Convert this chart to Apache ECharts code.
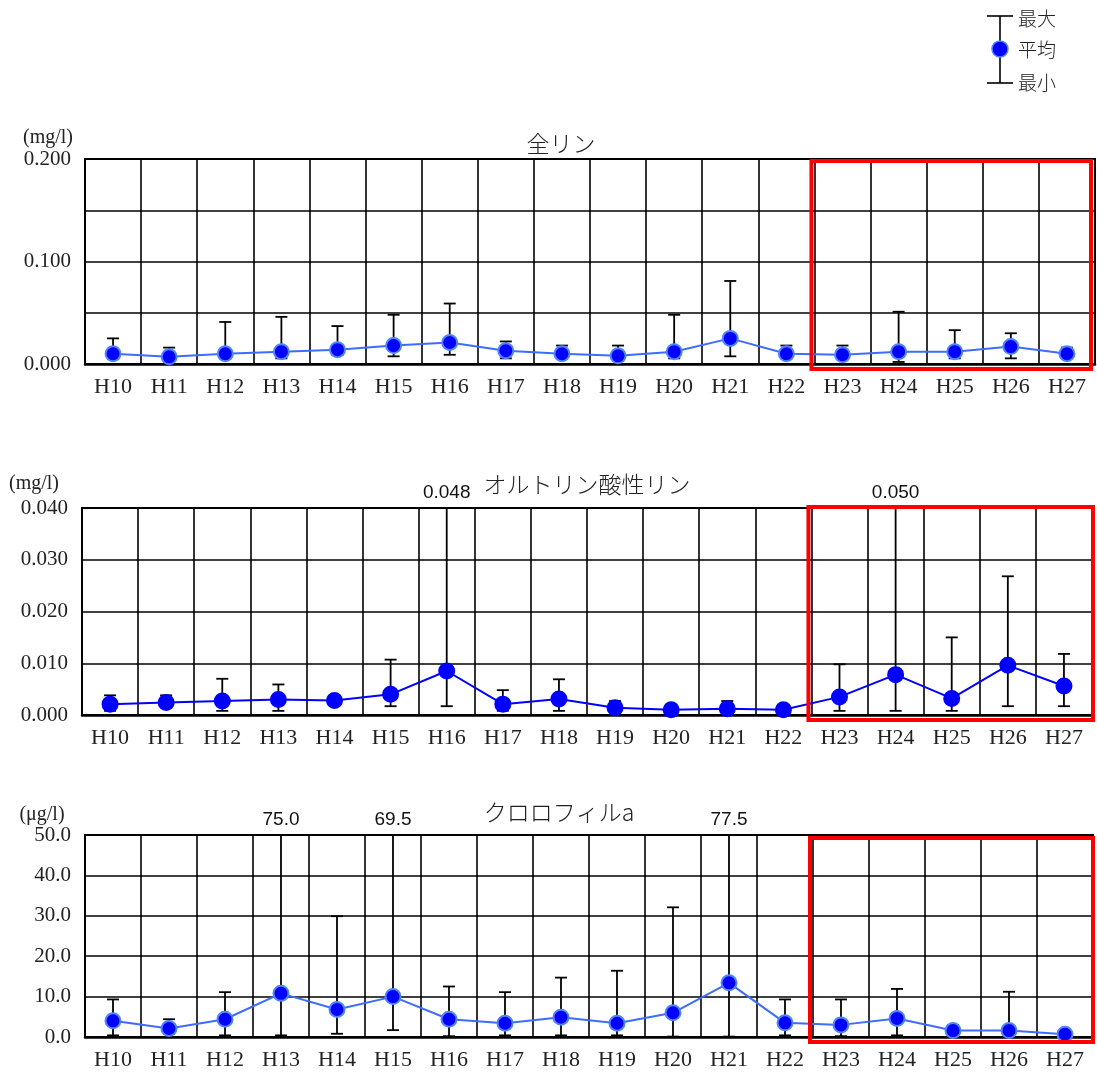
<!DOCTYPE html>
<html>
<head>
<meta charset="utf-8">
<script src="https://cdn.jsdelivr.net/npm/echarts@6/dist/echarts.min.js"></script>
<style>
html, body { margin: 0; padding: 0; background: #fff; }
#main { width: 1097px; height: 1076px; }
</style>
</head>
<body>
<div id="main"></div>
<script>
// 年度
const years = ['H10','H11','H12','H13','H14','H15','H16','H17','H18','H19','H20','H21','H22','H23','H24','H25','H26','H27'];

// 全リン (mg/l)
const tpMean = [0.010,0.007,0.010,0.012,0.014,0.018,0.021,0.013,0.010,0.008,0.012,0.025,0.010,0.009,0.012,0.012,0.017,0.010];
const tpMax  = [0.025,0.016,0.041,0.046,0.037,0.048,0.059,0.022,0.018,0.018,0.048,0.081,0.018,0.018,0.051,0.033,0.030,0.016];
const tpMin  = [0.005,0.004,0.0055,0.0055,0.009,0.0075,0.009,0.0055,0.007,0.007,0.0055,0.0075,0.008,0.007,0.002,0.0055,0.0055,0.008];

// オルトリン酸性リン (mg/l)
const opMean = [0.0021,0.0024,0.0027,0.0030,0.0028,0.0040,0.0085,0.0021,0.0031,0.0014,0.0010,0.0012,0.0010,0.0035,0.0078,0.0032,0.0096,0.0056];
const opMax  = [0.0038,0.0038,0.0070,0.0059,0.0032,0.0107,0.048,0.0048,0.0069,0.0027,0.0012,0.0027,0.0012,0.0098,0.050,0.0150,0.0268,0.0118];
const opMin  = [0.0008,0.0015,0.0008,0.0008,0.0022,0.0017,0.0017,0.0008,0.0008,0.0008,0.0008,0.0008,0.0008,0.0008,0.0008,0.0008,0.0017,0.0017];

// クロロフィルa (μg/l)
const chlMean = [4.0,2.1,4.4,10.8,6.8,10.0,4.4,3.4,4.9,3.4,6.0,13.4,3.5,3.0,4.6,1.6,1.6,0.7];
const chlMax  = [9.3,4.4,11.1,75.0,29.9,69.5,12.5,11.1,14.7,16.4,32.1,77.5,9.3,9.3,11.9,3.0,11.2,1.0];
const chlMin  = [0.4,0.8,0.4,0.4,0.8,1.7,0.2,0.4,0.4,0.4,0.1,0.1,0.4,0.2,0.4,0.3,0.2,0.3];

// y軸目盛
const tpTicks  = { min: 0, max: 0.2,  interval: 0.05, digits: 3, every: 2 };
const opTicks  = { min: 0, max: 0.04, interval: 0.01, digits: 3, every: 1 };
const chlTicks = { min: 0, max: 50,   interval: 10,   digits: 1, every: 1 };

const SERIF = '"Liberation Serif", "DejaVu Serif", serif';
const JP = '"Noto Sans CJK JP", sans-serif';
const SANS = '"Liberation Sans", Arial, sans-serif';

const panels = [
  { title: '全リン', unit: '(mg/l)', mean: tpMean, max: tpMax, min: tpMin, ticks: tpTicks,
    grid: { left: 85, top: 159, width: 1010, height: 205 },
    titlePos: { x: 561, y: 143 }, unitPos: { x: 48, y: 138 },
    lineColor: '#3d6cff', dotBorder: '#4f86ff', box: [-3, 2, -4, 5] },
  { title: 'オルトリン酸性リン', unit: '(mg/l)', mean: opMean, max: opMax, min: opMin, ticks: opTicks,
    grid: { left: 82, top: 508, width: 1010, height: 207 },
    titlePos: { x: 587, y: 484 }, unitPos: { x: 34, y: 484 },
    lineColor: '#0000ff', dotBorder: '#0000ff', box: [-3, -1, 1, 5] },
  { title: 'クロロフィルa', unit: '(μg/l)', mean: chlMean, max: chlMax, min: chlMin, ticks: chlTicks,
    grid: { left: 85, top: 835, width: 1008, height: 202 },
    titlePos: { x: 559, y: 812 }, unitPos: { x: 42, y: 815 },
    lineColor: '#3d6cff', dotBorder: '#4f86ff', box: [-3, 3, 0, 5] }
];

// 最大・最小のひげ（上限を超える値は上端で切り、数値を表示）
function errorBar(digits) {
  return function (params, api) {
    const x = api.value(0);
    const lo = api.coord([x, api.value(1)]);
    const hi = api.coord([x, api.value(2)]);
    const cs = params.coordSys;
    const clipped = hi[1] < cs.y;
    const top = clipped ? cs.y : hi[1];
    const half = 6;
    const st = { stroke: '#000', lineWidth: 1.8 };
    const children = [
      { type: 'line', shape: { x1: lo[0], y1: lo[1], x2: lo[0], y2: top }, style: st },
      { type: 'line', shape: { x1: lo[0] - half, y1: lo[1], x2: lo[0] + half, y2: lo[1] }, style: st }
    ];
    if (!clipped) {
      children.push({ type: 'line', shape: { x1: hi[0] - half, y1: hi[1], x2: hi[0] + half, y2: hi[1] }, style: st });
    } else {
      children.push({
        type: 'text', x: lo[0], y: cs.y - 15,
        style: { text: api.value(2).toFixed(digits), fill: '#111', font: 'normal 19px ' + SANS,
                 align: 'center', verticalAlign: 'middle' }
      });
    }
    return { type: 'group', children: children };
  };
}

const option = {
  animation: false,
  backgroundColor: '#fff',
  grid: [], xAxis: [], yAxis: [], series: []
};

// 見出し・単位
const labels = [];

panels.forEach((p, i) => {
  labels.push({
    type: 'text', x: p.titlePos.x, y: p.titlePos.y,
    style: { text: p.title, font: '300 23px ' + JP, fill: '#222', align: 'center', verticalAlign: 'middle' }
  });
  labels.push({
    type: 'text', x: p.unitPos.x, y: p.unitPos.y,
    style: { text: p.unit, font: 'normal 20px ' + SERIF, fill: '#222', align: 'center', verticalAlign: 'middle' }
  });
  option.grid.push(Object.assign({ show: true, borderColor: '#000', borderWidth: 2, backgroundColor: '#fff' }, p.grid));
  option.xAxis.push({
    type: 'category', gridIndex: i, data: years, boundaryGap: true,
    axisLine: { lineStyle: { color: '#000', width: 2.5 } },
    axisTick: { show: false },
    axisLabel: { color: '#222', fontFamily: SERIF, fontSize: 22, margin: 12 },
    splitLine: { show: true, lineStyle: { color: '#000', width: 1.6 } }
  });
  const t = p.ticks;
  option.yAxis.push({
    type: 'value', gridIndex: i, min: t.min, max: t.max, interval: t.interval,
    axisLine: { show: true, lineStyle: { color: '#000', width: 2 } },
    axisTick: { show: false },
    axisLabel: {
      color: '#222', fontFamily: SERIF, fontSize: 21, margin: 14,
      formatter: v => (Math.round(v / t.interval) % t.every === 0 ? v.toFixed(t.digits) : '')
    },
    splitLine: { show: true, lineStyle: { color: '#000', width: 1.6 } }
  });
  option.series.push({
    type: 'custom', xAxisIndex: i, yAxisIndex: i, z: 2, clip: false,
    renderItem: errorBar(t.digits),
    encode: { x: 0, y: [1, 2] },
    data: years.map((_, k) => [k, p.min[k], p.max[k]])
  });
  option.series.push({
    type: 'line', xAxisIndex: i, yAxisIndex: i, z: 3, data: p.mean,
    symbol: 'circle', symbolSize: 15,
    lineStyle: { color: p.lineColor, width: 2 },
    itemStyle: { color: '#0000ff', borderColor: p.dotBorder, borderWidth: 2 }
  });
});

// 凡例
const legend = {
  type: 'group', children: [
    { type: 'line', shape: { x1: 1000, y1: 16, x2: 1000, y2: 83 }, style: { stroke: '#000', lineWidth: 1.6 } },
    { type: 'line', shape: { x1: 987, y1: 16, x2: 1013, y2: 16 }, style: { stroke: '#000', lineWidth: 1.6 } },
    { type: 'line', shape: { x1: 987, y1: 83, x2: 1013, y2: 83 }, style: { stroke: '#000', lineWidth: 1.6 } },
    { type: 'circle', shape: { cx: 1000, cy: 49, r: 8 }, style: { fill: '#0000ff', stroke: '#4f86ff', lineWidth: 1.5 } },
    { type: 'text', x: 1018, y: 19, style: { text: '最大', font: '300 19px ' + JP, fill: '#222', verticalAlign: 'middle' } },
    { type: 'text', x: 1018, y: 50, style: { text: '平均', font: '300 19px ' + JP, fill: '#222', verticalAlign: 'middle' } },
    { type: 'text', x: 1018, y: 83, style: { text: '最小', font: '300 19px ' + JP, fill: '#222', verticalAlign: 'middle' } }
  ]
};

const chart = echarts.init(document.getElementById('main'), null, { renderer: 'canvas' });
chart.setOption(option);

// H23〜H27 を囲む赤枠
const boxes = panels.map((p, i) => {
  const a = chart.convertToPixel({ xAxisIndex: i }, 'H22');
  const b = chart.convertToPixel({ xAxisIndex: i }, 'H23');
  const left = (a + b) / 2 + p.box[0];
  const right = p.grid.left + p.grid.width + p.box[2];
  const top = p.grid.top + p.box[1];
  const bottom = p.grid.top + p.grid.height + p.box[3];
  return {
    type: 'rect', z: 100,
    shape: { x: left, y: top, width: right - left, height: bottom - top },
    style: { fill: 'none', stroke: '#ff0000', lineWidth: 4 }
  };
});
chart.setOption({ graphic: [legend].concat(labels, boxes) });
</script>
</body>
</html>
